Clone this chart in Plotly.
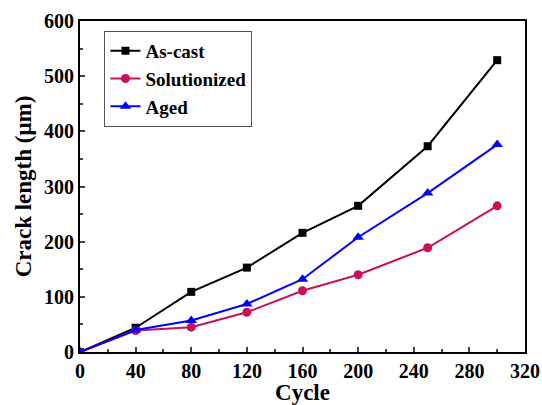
import plotly.graph_objects as go

cycles_cast = [0, 40, 80, 120, 160, 200, 250, 300]
as_cast = [0, 44, 109, 153, 216, 265, 373, 529]
solutionized = [0, 39, 45, 72, 111, 140, 189, 265]
aged = [0, 40, 57, 87, 132, 208, 288, 376]

x_ticks = [0, 40, 80, 120, 160, 200, 240, 280, 320]
y_ticks = [0, 100, 200, 300, 400, 500, 600]

fig = go.Figure()
fig.add_trace(go.Scatter(x=cycles_cast, y=as_cast, name="<b>As-cast</b>", mode="lines+markers",
                         line=dict(color="black", width=2),
                         marker=dict(symbol="square", size=8, color="black")))
fig.add_trace(go.Scatter(x=cycles_cast, y=solutionized, name="<b>Solutionized</b>", mode="lines+markers",
                         line=dict(color="#C8105C", width=2),
                         marker=dict(symbol="circle", size=9, color="#C8105C")))
fig.add_trace(go.Scatter(x=cycles_cast, y=aged, name="<b>Aged</b>", mode="lines+markers",
                         line=dict(color="#0000FF", width=2),
                         marker=dict(symbol="triangle-up", size=10, color="#0000FF")))

font_fam = "Liberation Serif"
fig.update_layout(
    width=542, height=405,
    margin=dict(l=80, r=17, t=21, b=53, autoexpand=False),
    paper_bgcolor="white", plot_bgcolor="white",
    font=dict(family=font_fam, color="black"),
    showlegend=True,
    legend=dict(x=0.055, y=0.97, xanchor="left", yanchor="top",
                bordercolor="#555555", borderwidth=1, bgcolor="white",
                font=dict(size=19, family=font_fam),
                tracegroupgap=0, itemwidth=30),
    xaxis=dict(range=[0, 320], tickvals=x_ticks, ticktext=["<b>%d</b>" % v for v in x_ticks],
               ticks="inside", ticklen=5, tickwidth=2,
               showline=True, linecolor="black", linewidth=2, mirror=True,
               showgrid=False, zeroline=False, automargin=False,
               tickfont=dict(size=20, family=font_fam),
               minor=dict(ticks="inside", ticklen=3, tickwidth=2, dtick=20, tick0=0, showgrid=False),
               title=dict(text="<b>Cycle</b>", font=dict(size=23, family=font_fam), standoff=2)),
    yaxis=dict(range=[0, 600], tickvals=y_ticks, ticktext=["<b>%d</b>" % v for v in y_ticks],
               ticks="inside", ticklen=5, tickwidth=2,
               showline=True, linecolor="black", linewidth=2, mirror=True,
               showgrid=False, zeroline=False, automargin=False,
               tickfont=dict(size=20, family=font_fam),
               minor=dict(ticks="inside", ticklen=3, tickwidth=2, dtick=50, tick0=0, showgrid=False),
               title=dict(text="<b>Crack length (μm)</b>", font=dict(size=23, family=font_fam), standoff=6)),
)
fig.write_html("out.html")
